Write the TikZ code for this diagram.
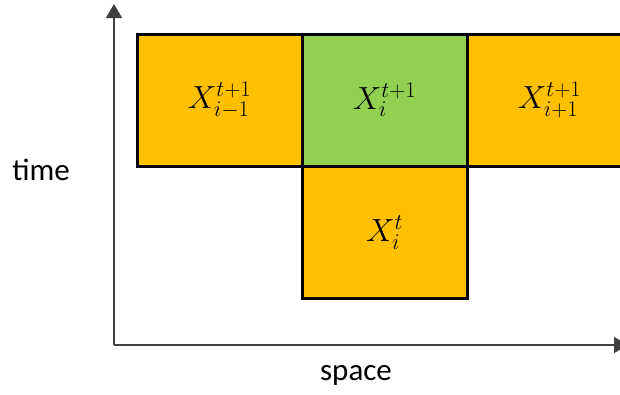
\documentclass[tikz,border=0pt]{standalone}
\usepackage{fix-cm}
\usepackage{fontspec}
\setmainfont{Carlito}
\usetikzlibrary{arrows.meta}
\definecolor{cellorange}{HTML}{FFC000}
\definecolor{cellgreen}{HTML}{92D050}
\definecolor{axisgray}{HTML}{404040}
\tikzset{
  cell/.style={draw=black, line width=3pt, minimum width=165pt, minimum height=132pt, inner sep=0pt, font=\fontsize{32}{36}\selectfont},
  axis/.style={draw=axisgray, line width=1.6pt, -{Triangle[length=14pt,width=16pt]}},
  lbl/.style={font=\fontsize{31}{34}\selectfont, inner sep=0pt}
}
\begin{document}
\begin{tikzpicture}[x=1pt,y=-1pt]
\useasboundingbox (0,0) rectangle (620,394);
\clip (0,0) rectangle (620,394);
\coordinate (o) at (114,345);
\coordinate (ytip) at (114,4);
\coordinate (xtip) at (628,345);
\draw[axis] (o) -- (ytip);
\draw[axis] (o) -- (xtip);
\node[cell, fill=cellorange] (l) at (219.5,100) {$X_{i-1}^{t+1}$};
\node[cell, fill=cellgreen] (m) at (384.5,100) {$X_{i}^{t+1}$};
\node[cell, fill=cellorange] (r) at (549.5,100) {$X_{i+1}^{t+1}$};
\node[cell, fill=cellorange] (b) at (384.5,232.5) {$X_{i}^{t}$};
\node[lbl] (time) at (41,170) {time};
\node[lbl] (space) at (356,375) {space};
\end{tikzpicture}
\end{document}
